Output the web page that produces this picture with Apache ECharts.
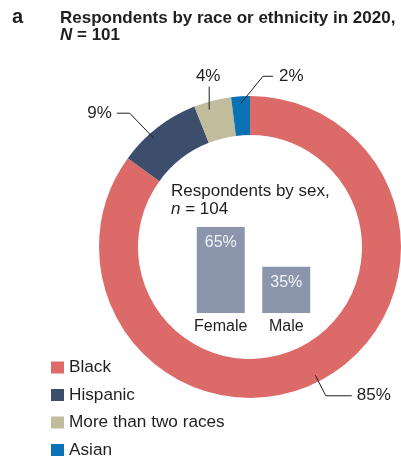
<!DOCTYPE html>
<html>
<head>
<meta charset="utf-8">
<script src="https://cdn.jsdelivr.net/npm/echarts@6/dist/echarts.min.js"></script>
<style>
  html, body { margin: 0; padding: 0; background: #fff; }
  #chart { width: 401px; height: 459px; }
</style>
</head>
<body>
<div id="chart"></div>
<script>
// data
var raceNames = ['Black', 'Hispanic', 'More than two races', 'Asian'];
var raceValues = [85, 9, 4, 2];
var raceColors = ['#dc6a68', '#3c4e6b', '#c1bd9c', '#0a72b5'];
var sexNames = ['Female', 'Male'];
var sexValues = [65, 35];

var font = '"Liberation Sans", Arial, Helvetica, sans-serif';
var ink = '#1f1f1f';

var chart = echarts.init(document.getElementById('chart'));

var ringData = raceNames.map(function (name, i) {
  return { name: name, value: raceValues[i] };
});

// second, invisible pie only carries the labels so the lines start inside the ring
var labelData = raceNames.map(function (name, i) {
  var item = { name: name, value: raceValues[i] };
  if (name === 'Black') item.labelLine = { length: 23, length2: 26 };
  return item;
});

var option = {
  animation: false,
  color: raceColors,
  textStyle: { fontFamily: font },
  title: [
    {
      text: 'a',
      left: 12, top: 7, padding: 0,
      textStyle: { fontSize: 20, fontWeight: 'bold', color: ink, fontFamily: font, lineHeight: 20 }
    },
    {
      text: 'Respondents by race or ethnicity in 2020,\n{i|N} = 101',
      left: 60, top: 10, padding: 0,
      textStyle: {
        fontSize: 17, fontWeight: 'bold', color: ink, fontFamily: font, lineHeight: 17,
        rich: { i: { fontStyle: 'italic', fontWeight: 'bold', fontSize: 17, lineHeight: 17, color: ink, fontFamily: font } }
      }
    },
    {
      text: 'Respondents by sex,\n{i|n} = 104',
      left: 171, top: 182, padding: 0,
      textStyle: {
        fontSize: 17, fontWeight: 'normal', color: ink, fontFamily: font, lineHeight: 18,
        rich: { i: { fontStyle: 'italic', fontSize: 17, lineHeight: 18, color: ink, fontFamily: font } }
      }
    }
  ],
  legend: {
    orient: 'vertical',
    left: 51, top: 359,
    padding: 0,
    icon: 'rect',
    itemWidth: 13, itemHeight: 12, itemGap: 10.5,
    selectedMode: false,
    data: raceNames,
    textStyle: { fontSize: 17.2, color: ink, fontFamily: font, lineHeight: 17 }
  },
  grid: { left: 188, right: 82, top: 227, bottom: 146, containLabel: false },
  xAxis: {
    type: 'category',
    data: sexNames,
    axisLine: { show: false },
    axisTick: { show: false },
    splitLine: { show: false },
    axisLabel: { interval: 0, hideOverlap: false, margin: 6, fontSize: 16, color: ink, fontFamily: font }
  },
  yAxis: { type: 'value', min: 0, max: 65, show: false, splitLine: { show: false } },
  series: [
    {
      type: 'pie',
      center: [250, 247],
      radius: [112, 151],
      startAngle: 90,
      silent: true,
      z: 2,
      label: { show: false },
      labelLine: { show: false },
      data: ringData
    },
    {
      type: 'pie',
      center: [250, 247],
      radius: [0, 144],
      startAngle: 90,
      silent: true,
      z: 5,
      avoidLabelOverlap: false,
      itemStyle: { color: 'transparent' },
      label: {
        show: true,
        position: 'outside',
        formatter: '{c}%',
        fontSize: 17,
        color: ink,
        fontFamily: font,
        distanceToLabelLine: 5
      },
      labelLine: { show: true, length: 20, length2: 20, lineStyle: { color: ink, width: 1 } },
      labelLayout: function (params) {
        var p = params.labelLinePoints;
        if (!p) return;
        var x0 = p[0][0], y0 = p[0][1];
        if (params.dataIndex === 1) {
          return {
            x: x0 - 50, y: y0 - 20, align: 'right', verticalAlign: 'middle',
            labelLinePoints: [[x0 - 8, y0 + 5], [x0 - 32, y0 - 20], [x0 - 45, y0 - 20]]
          };
        }
        if (params.dataIndex === 2) {
          return {
            x: x0 - 6, y: y0 - 23, align: 'center', verticalAlign: 'bottom',
            labelLinePoints: [[x0 - 5, y0 + 2], [x0 - 5, y0 - 21], [x0 - 5, y0 - 21]]
          };
        }
        if (params.dataIndex === 3) {
          return {
            x: x0 + 38, y: y0 - 27, align: 'left', verticalAlign: 'middle',
            labelLinePoints: [[x0, y0], [x0 + 22, y0 - 27], [x0 + 32, y0 - 27]]
          };
        }
      },
      data: labelData
    },
    {
      type: 'bar',
      data: sexValues,
      barWidth: 48,
      silent: true,
      itemStyle: { color: '#8b96ad' },
      label: {
        show: true,
        position: 'insideTop',
        distance: 8,
        formatter: '{c}%',
        color: '#f2f4f7',
        fontSize: 16,
        fontFamily: font
      }
    }
  ]
};

chart.setOption(option);
</script>
</body>
</html>
